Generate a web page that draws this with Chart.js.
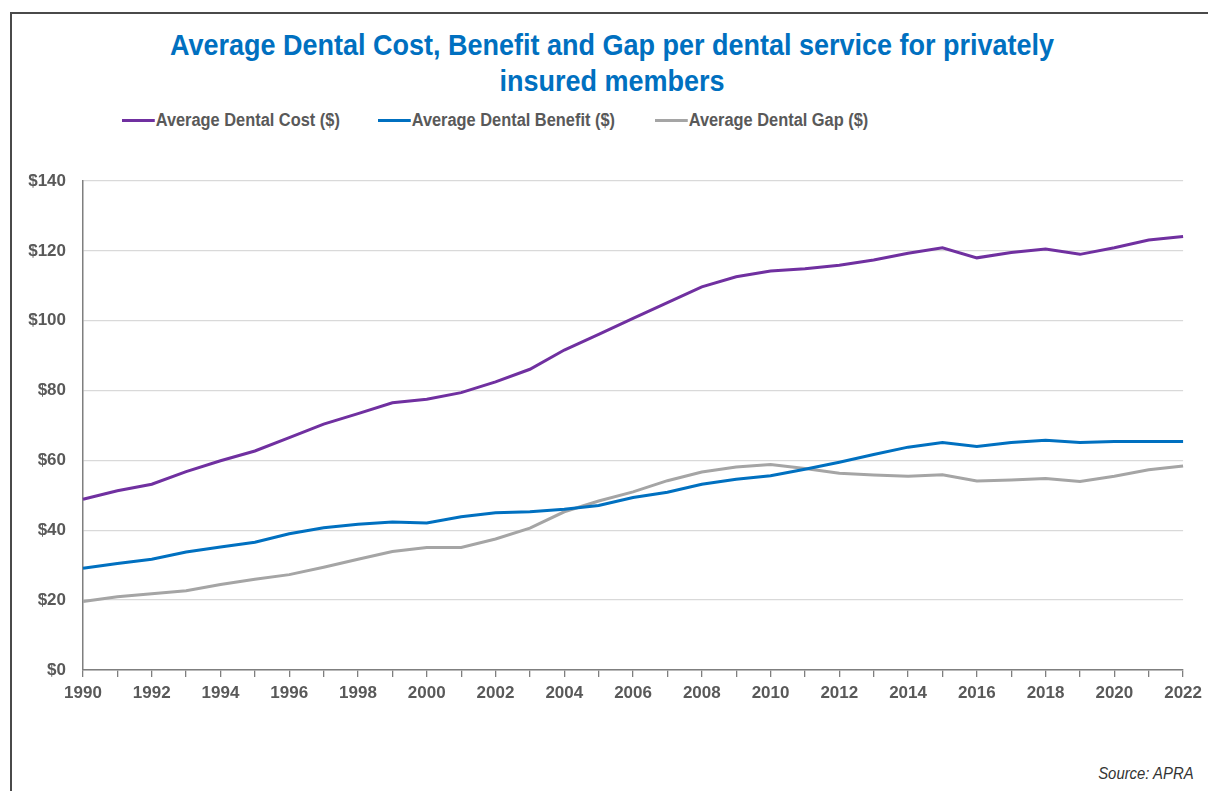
<!DOCTYPE html>
<html>
<head>
<meta charset="utf-8">
<script src="https://cdn.jsdelivr.net/npm/chart.js@4.4.1/dist/chart.umd.min.js"></script>
<style>
  html, body { margin:0; padding:0; background:#fff; }
  body { width:1208px; height:791px; position:relative; overflow:hidden; font-family:"Liberation Sans Narrow","Liberation Sans",Arial,sans-serif; }
  #frameTop { position:absolute; left:10px; top:12px; width:1198px; height:2px; background:#4a4a4a; }
  #frameLeft { position:absolute; left:10px; top:12px; width:2px; height:779px; background:#4a4a4a; }
  #title { position:absolute; left:0; width:1224px; top:27px; text-align:center; color:#0070C0; font-weight:bold; font-size:29.5px; line-height:36px; }
  #title span { display:inline-block; transform:scaleX(0.915); transform-origin:center; white-space:nowrap; }
  #legend { position:absolute; top:109px; left:122px; height:22px; font-weight:bold; font-size:18px; color:#595959; }
  .item { position:absolute; white-space:nowrap; line-height:22px; top:0; transform-origin:left center; }
  .sw { display:inline-block; width:36px; height:3px; vertical-align:middle; margin-right:1px; position:relative; top:-1px; }
  #source { position:absolute; right:14px; top:765px; font-style:italic; font-size:16px; color:#333; transform:scaleX(0.93); transform-origin:right center; }
  #wrap { position:absolute; left:0; top:0; width:1208px; height:791px; }
</style>
</head>
<body>
<div id="frameTop"></div>
<div id="frameLeft"></div>
<div id="title"><span>Average Dental Cost, Benefit and Gap per dental service for privately</span><br><span>insured members</span></div>
<div id="legend"></div>
<div id="source">Source: APRA</div>
<div id="wrap"><canvas id="c" width="1208" height="791"></canvas></div>
<script>
const years = ["1990","1991","1992","1993","1994","1995","1996","1997","1998","1999","2000","2001","2002","2003","2004","2005","2006","2007","2008","2009","2010","2011","2012","2013","2014","2015","2016","2017","2018","2019","2020","2021","2022"];
const costValues = [48.9,51.3,53.2,56.8,59.9,62.7,66.5,70.4,73.4,76.5,77.5,79.4,82.5,86.1,91.6,96.1,100.7,105.2,109.7,112.6,114.2,114.9,115.9,117.4,119.3,120.9,118.0,119.5,120.5,119.0,120.9,123.1,124.1];
const benefitValues = [29.1,30.5,31.7,33.8,35.2,36.6,39.0,40.7,41.7,42.4,42.1,43.9,45.0,45.3,46.0,47.1,49.4,50.9,53.2,54.6,55.6,57.5,59.5,61.7,63.8,65.1,64.0,65.1,65.8,65.1,65.4,65.4,65.4];
const gapValues = [19.6,21.0,21.8,22.7,24.5,26.0,27.3,29.4,31.7,33.9,35.1,35.1,37.5,40.6,45.3,48.4,51.0,54.2,56.7,58.1,58.8,57.7,56.3,55.8,55.5,55.9,54.1,54.4,54.8,54.0,55.5,57.3,58.4];
const seriesNames = ["Average Dental Cost ($)","Average Dental Benefit ($)","Average Dental Gap ($)"];
const yTicks = [0,20,40,60,80,100,120,140];

const colors = ["#7030A0","#0070C0","#A5A5A5"];
const legendX = [0,256,533];
const leg = document.getElementById('legend');
seriesNames.forEach((n,i)=>{
  const d = document.createElement('div');
  d.className='item'; d.style.left = legendX[i]+'px';
  d.style.transform = 'scaleX(0.91)';
  d.innerHTML = '<span class="sw" style="background:'+colors[i]+'"></span>'+n;
  leg.appendChild(d);
});

const fontFam = '"Liberation Sans Narrow","Liberation Sans",Arial,sans-serif';
const chart = new Chart(document.getElementById('c'), {
  type:'line',
  data:{
    labels: years,
    datasets:[
      {label:seriesNames[0], data:costValues, borderColor:colors[0], backgroundColor:colors[0], borderWidth:3, pointRadius:0, tension:0},
      {label:seriesNames[1], data:benefitValues, borderColor:colors[1], backgroundColor:colors[1], borderWidth:3, pointRadius:0, tension:0},
      {label:seriesNames[2], data:gapValues, borderColor:colors[2], backgroundColor:colors[2], borderWidth:3, pointRadius:0, tension:0}
    ]
  },
  options:{
    responsive:false, animation:false, events:[],
    layout:{padding:{left:0, top:181, right:21, bottom:81}},
    plugins:{legend:{display:false}, title:{display:false}, tooltip:{enabled:false}},
    scales:{
      x:{
        type:'category', offset:false,
        afterFit:(s)=>{ s.height = 40; },
        grid:{display:true, drawOnChartArea:false, drawTicks:true, tickLength:7, color:'#7f7f7f', lineWidth:1.3},
        border:{display:true, color:'#7f7f7f', width:1.5},
        ticks:{autoSkip:false, maxRotation:0, minRotation:0, padding:6, color:'#595959', font:{family:fontFam, size:17, weight:'bold'},
          callback:function(v,i){ return i%2===0 ? years[i] : ''; }}
      },
      y:{
        min:0, max:140,
        afterFit:(s)=>{ s.width = 83; },
        afterBuildTicks:(s)=>{ s.ticks = yTicks.map(v=>({value:v})); },
        grid:{color:'#d9d9d9', drawTicks:false, lineWidth:1.3},
        border:{display:true, color:'#7f7f7f', width:1.5},
        ticks:{padding:17, color:'#595959', font:{family:fontFam, size:17, weight:'bold'}, callback:(v)=>'$'+v}
      }
    }
  }
});
</script>
</body>
</html>
